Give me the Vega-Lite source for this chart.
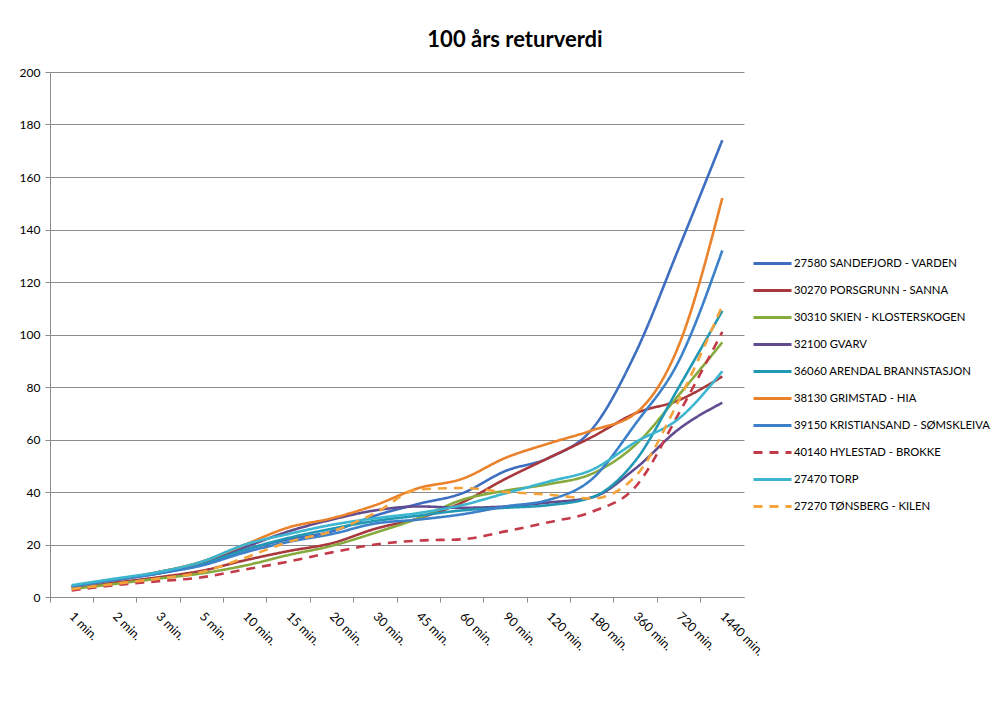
{
  "$schema": "https://vega.github.io/schema/vega-lite/v6.json",
  "width": 694,
  "height": 525,
  "autosize": "none",
  "padding": {"left": 50, "top": 72, "right": 256, "bottom": 105},
  "background": "white",
  "title": {"text": "100 års returverdi", "font": "Lato", "fontSize": 22, "fontWeight": "bold", "color": "#000000", "anchor": "middle", "frame": "group", "dx": 118, "offset": 14},
  "config": {"view": {"stroke": null}, "font": "Lato"},
  "datasets": {
    "wide": [
      {"d": "1 min.",    "S27580": 4,   "S30270": 3.5, "S30310": 3,   "S32100": 4,   "S36060": 4,   "S38130": 4,    "S39150": 4,   "S40140": 2.5,  "S27470": 4.5,  "S27270": 3},
      {"d": "2 min.",    "S27580": 6.5, "S30270": 5.5, "S30310": 5,   "S32100": 6.5, "S36060": 6.5, "S38130": 6.5,  "S39150": 6.5, "S40140": 4.5,  "S27470": 7,    "S27270": 5},
      {"d": "3 min.",    "S27580": 9,   "S30270": 7.5, "S30310": 7,   "S32100": 9.5, "S36060": 9,   "S38130": 9.5,  "S39150": 9,   "S40140": 6,    "S27470": 9.5,  "S27270": 7},
      {"d": "5 min.",    "S27580": 12.5,"S30270": 10,  "S30310": 9,   "S32100": 13,  "S36060": 12.5,"S38130": 13.5, "S39150": 12,  "S40140": 7.5,  "S27470": 13.5, "S27270": 9.5},
      {"d": "10 min.",   "S27580": 18,  "S30270": 14,  "S30310": 12,  "S32100": 19,  "S36060": 18,  "S38130": 20,   "S39150": 17,  "S40140": 10.5, "S27470": 20,   "S27270": 15},
      {"d": "15 min.",   "S27580": 22,  "S30270": 17.5,"S30310": 16,  "S32100": 25,  "S36060": 22.5,"S38130": 26.5, "S39150": 21,  "S40140": 13.5, "S27470": 24,   "S27270": 21},
      {"d": "20 min.",   "S27580": 25,  "S30270": 20.5,"S30310": 19.5,"S32100": 29.5,"S36060": 26,  "S38130": 30,   "S39150": 24,  "S40140": 17,   "S27470": 27.5, "S27270": 25},
      {"d": "30 min.",   "S27580": 31,  "S30270": 26,  "S30310": 24.5,"S32100": 33,  "S36060": 29,  "S38130": 35,   "S39150": 28,  "S40140": 20,   "S27470": 30,   "S27270": 32},
      {"d": "45 min.",   "S27580": 35.5,"S30270": 30,  "S30310": 30,  "S32100": 34.5,"S36060": 31,  "S38130": 41.5, "S39150": 29.5,"S40140": 21.5, "S27470": 32,   "S27270": 41},
      {"d": "60 min.",   "S27580": 39.5,"S30270": 36,  "S30310": 37,  "S32100": 34,  "S36060": 33,  "S38130": 45,   "S39150": 31.5,"S40140": 22,   "S27470": 35,   "S27270": 41.5},
      {"d": "90 min.",   "S27580": 48,  "S30270": 45,  "S30310": 40.5,"S32100": 34.5,"S36060": 34,  "S38130": 53,   "S39150": 34.5,"S40140": 25,   "S27470": 39.5, "S27270": 40},
      {"d": "120 min.",  "S27580": 53,  "S30270": 53,  "S30310": 43,  "S32100": 36,  "S36060": 35,  "S38130": 58.5, "S39150": 37,  "S40140": 28.5, "S27470": 44,   "S27270": 39},
      {"d": "180 min.",  "S27580": 64,  "S30270": 61,  "S30310": 47,  "S32100": 38,  "S36060": 38,  "S38130": 63.5, "S39150": 45,  "S40140": 32.5, "S27470": 48.5, "S27270": 37.5},
      {"d": "360 min.",  "S27580": 93,  "S30270": 70,  "S30310": 58,  "S32100": 49,  "S36060": 52,  "S38130": 70,   "S39150": 66,  "S40140": 42,   "S27470": 59,   "S27270": 46},
      {"d": "720 min.",  "S27580": 133, "S30270": 75,  "S30310": 77,  "S32100": 64,  "S36060": 80,  "S38130": 96,   "S39150": 90,  "S40140": 70,   "S27470": 68,   "S27270": 75},
      {"d": "1440 min.", "S27580": 174, "S30270": 84,  "S30310": 97,  "S32100": 74,  "S36060": 109, "S38130": 152,  "S39150": 132, "S40140": 101,  "S27470": 86,   "S27270": 111}
    ]
  },
  "data": {"name": "wide"},
  "transform": [
    {"fold": ["S27580", "S30270", "S30310", "S32100", "S36060", "S38130", "S39150", "S40140", "S27470", "S27270"], "as": ["key", "value"]},
    {"lookup": "key", "from": {"data": {"values": [
      {"key": "S27580", "name": "27580 SANDEFJORD - VARDEN"},
      {"key": "S30270", "name": "30270 PORSGRUNN - SANNA"},
      {"key": "S30310", "name": "30310 SKIEN - KLOSTERSKOGEN"},
      {"key": "S32100", "name": "32100 GVARV"},
      {"key": "S36060", "name": "36060 ARENDAL BRANNSTASJON"},
      {"key": "S38130", "name": "38130 GRIMSTAD - HIA"},
      {"key": "S39150", "name": "39150 KRISTIANSAND - SØMSKLEIVA"},
      {"key": "S40140", "name": "40140 HYLESTAD - BROKKE"},
      {"key": "S27470", "name": "27470 TORP"},
      {"key": "S27270", "name": "27270 TØNSBERG - KILEN"}
    ]}, "key": "key", "fields": ["name"]}}
  ],
  "mark": {"type": "line", "strokeWidth": 2.6, "interpolate": "monotone"},
  "encoding": {
    "x": {
      "field": "d", "type": "ordinal", "bandPosition": 0.5,
      "sort": ["1 min.", "2 min.", "3 min.", "5 min.", "10 min.", "15 min.", "20 min.", "30 min.", "45 min.", "60 min.", "90 min.", "120 min.", "180 min.", "360 min.", "720 min.", "1440 min."],
      "scale": {"type": "band", "paddingInner": 0, "paddingOuter": 0},
      "axis": {"title": null, "bandPosition": 0, "labelOffset": 0, "labelAngle": 45, "labelAlign": "left", "labelBaseline": "middle", "labelFont": "Lato", "labelFontSize": 12.5, "labelColor": "#000000", "labelPadding": 12, "domainColor": "#8c8c8c", "tickColor": "#8c8c8c", "tickSize": 5, "grid": false}
    },
    "y": {
      "field": "value", "type": "quantitative",
      "scale": {"domain": [0, 200], "nice": false},
      "axis": {"title": null, "values": [0, 20, 40, 60, 80, 100, 120, 140, 160, 180, 200], "labelFont": "Lato", "labelFontSize": 12, "labelColor": "#000000", "domainColor": "#8c8c8c", "tickColor": "#8c8c8c", "tickSize": 5, "labelPadding": 5, "gridColor": "#8c8c8c", "gridWidth": 1}
    },
    "color": {
      "field": "name", "type": "nominal",
      "scale": {
        "domain": ["27580 SANDEFJORD - VARDEN", "30270 PORSGRUNN - SANNA", "30310 SKIEN - KLOSTERSKOGEN", "32100 GVARV", "36060 ARENDAL BRANNSTASJON", "38130 GRIMSTAD - HIA", "39150 KRISTIANSAND - SØMSKLEIVA", "40140 HYLESTAD - BROKKE", "27470 TORP", "27270 TØNSBERG - KILEN"],
        "range": ["#3e6ec0", "#a8383c", "#86aa3e", "#614c90", "#2198b4", "#ea822c", "#3b80c8", "#c33a48", "#3cb6cf", "#f5a33a"]
      },
      "legend": {"title": null, "orient": "none", "legendX": 702, "legendY": 171, "symbolType": "stroke", "symbolSize": 1444, "symbolStrokeWidth": 3, "labelFont": "Lato", "labelFontSize": 11.3, "labelColor": "#000000", "rowPadding": -1, "labelLimit": 300, "labelOffset": 1}
    },
    "strokeDash": {
      "field": "name", "type": "nominal",
      "scale": {
        "domain": ["27580 SANDEFJORD - VARDEN", "30270 PORSGRUNN - SANNA", "30310 SKIEN - KLOSTERSKOGEN", "32100 GVARV", "36060 ARENDAL BRANNSTASJON", "38130 GRIMSTAD - HIA", "39150 KRISTIANSAND - SØMSKLEIVA", "40140 HYLESTAD - BROKKE", "27470 TORP", "27270 TØNSBERG - KILEN"],
        "range": [[1, 0], [1, 0], [1, 0], [1, 0], [1, 0], [1, 0], [1, 0], [9, 7], [1, 0], [9, 7]]
      },
      "legend": null
    }
  }
}
